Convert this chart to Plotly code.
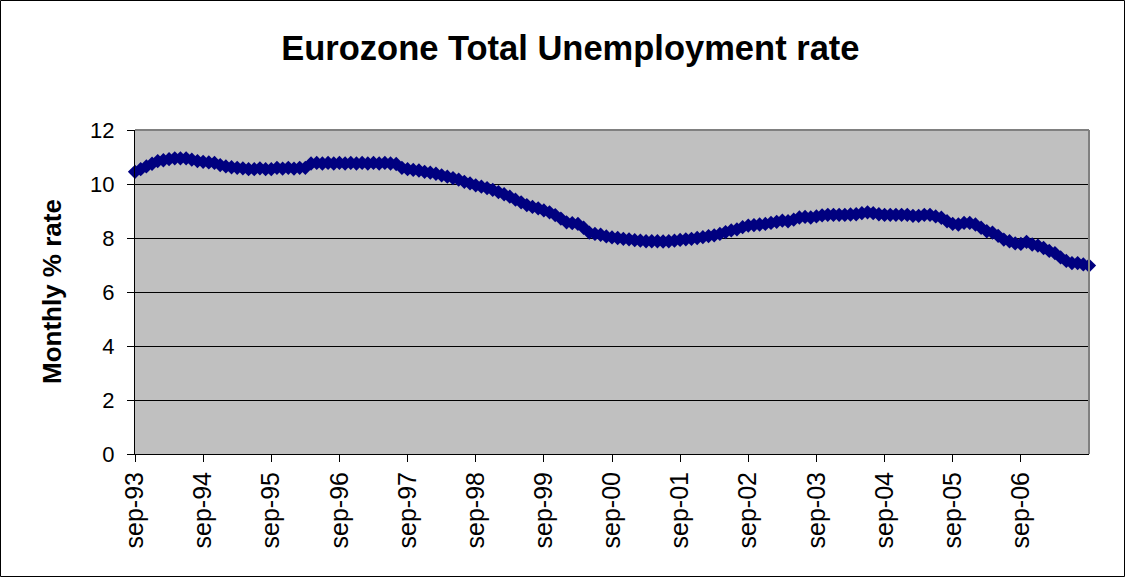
import plotly.graph_objects as go

# ---- data ----
month_names = ["jan", "feb", "mrt", "apr", "mei", "jun", "jul", "aug", "sep", "okt", "nov", "dec"]
start_year = 1993
start_month_index = 8  # sep

rate = [
    10.45, 10.55, 10.65, 10.75, 10.85, 10.88, 10.92, 10.95, 10.95, 10.95, 10.90, 10.85,  # sep93-aug94
    10.82, 10.80, 10.78, 10.70, 10.65, 10.62, 10.60, 10.58, 10.55, 10.55, 10.58, 10.55,  # sep94-aug95
    10.55, 10.60, 10.57, 10.60, 10.57, 10.60, 10.60, 10.76, 10.78, 10.76, 10.78, 10.76,  # sep95-aug96
    10.78, 10.76, 10.78, 10.76, 10.78, 10.76, 10.78, 10.76, 10.78, 10.76, 10.74, 10.60,  # sep96-aug97
    10.55, 10.52, 10.50, 10.45, 10.42, 10.38, 10.32, 10.27, 10.22, 10.16, 10.08, 10.02,  # sep97-aug98
    9.95, 9.90, 9.85, 9.78, 9.70, 9.62, 9.53, 9.42, 9.32, 9.22, 9.15, 9.10,              # sep98-aug99
    9.02, 8.95, 8.85, 8.72, 8.58, 8.55, 8.52, 8.38, 8.20, 8.15, 8.12, 8.06,              # sep99-aug00
    8.02, 8.00, 7.97, 7.95, 7.92, 7.90, 7.88, 7.88, 7.88, 7.87, 7.88, 7.90,              # sep00-aug01
    7.93, 7.95, 7.97, 8.00, 8.03, 8.07, 8.10, 8.15, 8.22, 8.28, 8.32, 8.40,              # sep01-aug02
    8.46, 8.48, 8.50, 8.52, 8.56, 8.60, 8.64, 8.62, 8.68, 8.76, 8.78, 8.76,              # sep02-aug03
    8.80, 8.84, 8.86, 8.86, 8.86, 8.86, 8.87, 8.88, 8.92, 8.95, 8.92, 8.88,              # sep03-aug04
    8.86, 8.86, 8.86, 8.86, 8.86, 8.82, 8.82, 8.86, 8.86, 8.80, 8.75, 8.62,              # sep04-aug05
    8.52, 8.50, 8.56, 8.56, 8.50, 8.38, 8.25, 8.20, 8.08, 7.94, 7.88, 7.80,              # sep05-aug06
    7.78, 7.86, 7.76, 7.72, 7.63, 7.52, 7.44, 7.28, 7.15, 7.07, 7.07, 7.02,              # sep06-aug07
    6.98,                                                                                 # sep07
]

categories = []
for i in range(len(rate)):
    mi = (start_month_index + i) % 12
    yr = start_year + (start_month_index + i) // 12
    categories.append(f"{month_names[mi]}-{yr % 100:02d}")

tick_labels = categories[::12][:14]

title_text = "Eurozone Total Unemployment rate"
y_title = "Monthly % rate"

# ---- layout geometry ----
W, H = 1125, 577
ml, mr, mt, mb = 135, 36, 130, 123
pw = W - ml - mr
ph = H - mt - mb

fig = go.Figure()
fig.add_trace(go.Scatter(
    x=categories, y=rate, mode="lines+markers",
    line=dict(color="#000080", width=2),
    marker=dict(symbol="diamond", size=11, color="#000080",
                line=dict(color="#000080", width=0)),
    cliponaxis=False, showlegend=False, hoverinfo="x+y",
))

font_family = "Liberation Sans, Arial, sans-serif"

fig.update_layout(
    width=W, height=H,
    margin=dict(l=ml, r=mr, t=mt, b=mb, pad=0),
    paper_bgcolor="white",
    plot_bgcolor="#C0C0C0",
    font=dict(family=font_family, color="black", size=22),
    title=dict(text="<b>" + title_text + "</b>", x=0.507, xanchor="center",
               y=1 - 48 / H, yanchor="middle",
               font=dict(size=34.5, family=font_family, color="black")),
    xaxis=dict(
        type="category",
        range=[0, len(rate) - 1],
        tickmode="array", tickvals=tick_labels, ticktext=tick_labels,
        tickangle=-90,
        ticks="outside", ticklen=7, tickwidth=1, tickcolor="black",
        ticklabelstandoff=0,
        showgrid=False, zeroline=False,
        showline=True, linecolor="black", linewidth=1,
        tickfont=dict(size=25, family=font_family, color="black"),
    ),
    yaxis=dict(
        range=[0, 12], dtick=2, tick0=0,
        ticks="outside", ticklen=7, tickwidth=1, tickcolor="black",
        ticklabelstandoff=8,
        showgrid=True, gridcolor="black", gridwidth=1,
        zeroline=False,
        showline=True, linecolor="black", linewidth=1,
        tickfont=dict(size=22, family=font_family, color="black"),
    ),
    annotations=[
        dict(text="<b>" + y_title + "</b>", xref="paper", yref="paper",
             x=(52 - ml) / pw, y=0.5, xanchor="center", yanchor="middle",
             textangle=-90, showarrow=False,
             font=dict(size=26, family=font_family, color="black")),
    ],
    shapes=[
        # top & right plot-area border (grey)
        dict(type="line", xref="paper", yref="paper", x0=0, x1=1, y0=1, y1=1,
             line=dict(color="#808080", width=2)),
        dict(type="line", xref="paper", yref="paper", x0=1, x1=1, y0=0, y1=1,
             line=dict(color="#808080", width=2)),
        # outer chart border
        dict(type="rect", xref="paper", yref="paper",
             x0=(0.5 - ml) / pw, x1=(W - 0.5 - ml) / pw,
             y0=-(H - 0.5 - mt - ph) / ph, y1=1 + (mt - 0.5) / ph,
             line=dict(color="black", width=1), fillcolor="rgba(0,0,0,0)"),
    ],
)

fig.write_html("out.html",
               config={"displayModeBar": False},
               post_script="document.body.style.margin='0';document.body.style.overflow='hidden';")
